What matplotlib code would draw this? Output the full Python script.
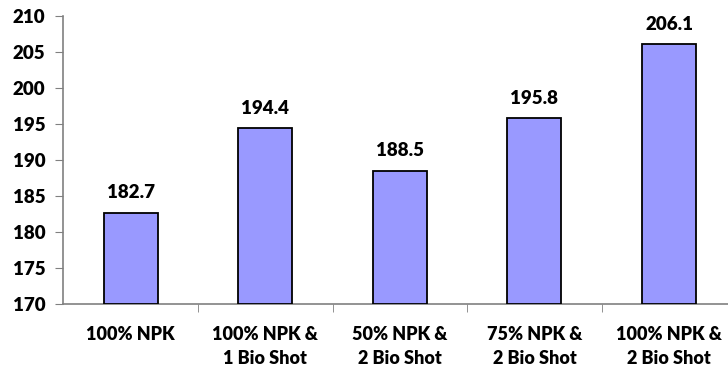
import matplotlib
matplotlib.use("Agg")
import matplotlib.pyplot as plt

categorias = ["100% NPK", "100% NPK &\n1 Bio Shot", "50% NPK &\n2 Bio Shot",
              "75% NPK &\n2 Bio Shot", "100% NPK &\n2 Bio Shot"]
valores = [182.7, 194.4, 188.5, 195.8, 206.1]
yticks = [170, 175, 180, 185, 190, 195, 200, 205, 210]

plt.rcParams['font.family'] = ['Lato', 'DejaVu Sans']
peso = 'heavy'

fig = plt.figure(figsize=(7.28, 3.68), dpi=100)
ax = fig.add_axes([63.3 / 728, 1 - 304 / 368, 673 / 728, 288 / 368])

x = list(range(len(categorias)))
ax.bar(x, [v - 170 for v in valores], bottom=170, width=0.4,
       color='#9999FF', edgecolor='black', linewidth=1.3, zorder=3)

# rótulos de valor acima das barras
for xi, v in zip(x, valores):
    ax.text(xi, v + 1.6, f"{v:.1f}", ha='center', va='bottom',
            fontsize=13.5, fontweight=peso)

ax.set_xlim(-0.5, len(categorias) - 0.5)
ax.set_ylim(170, 210)
ax.set_yticks(yticks)
ax.set_yticklabels([str(t) for t in yticks], fontsize=13.5, fontweight=peso)

ax.set_xticks(x)
ax.set_xticklabels(categorias, fontsize=13, fontweight=peso, linespacing=1.45)
ax.tick_params(axis='x', length=0, pad=16)
ax.set_xticks([i + 0.5 for i in x[:-1]], minor=True)
ax.tick_params(axis='x', which='minor', length=6, direction='out', color='#808080')
ax.tick_params(axis='y', length=6, direction='out', color='#808080', pad=7)

for s in ['top', 'right']:
    ax.spines[s].set_visible(False)
for s in ['left', 'bottom']:
    ax.spines[s].set_color('#808080')
    ax.spines[s].set_linewidth(1.2)

fig.savefig("out.png", dpi=100)
